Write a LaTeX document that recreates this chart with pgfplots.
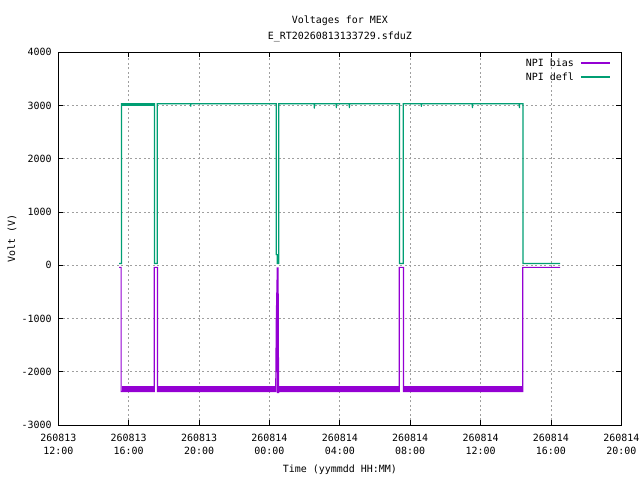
\documentclass[border=0pt]{standalone}
\usepackage{fontspec}
\setmainfont{DejaVu Sans Mono}
\usepackage{pgfplots}
\pgfplotsset{compat=1.18}
\definecolor{npibias}{RGB}{148,0,211}
\definecolor{npidefl}{RGB}{0,158,115}
\begin{document}
\begin{tikzpicture}[font=\fontsize{10}{12}\selectfont]
\useasboundingbox (0,0) rectangle (640bp,480bp);
\begin{axis}[
  at={(58.3bp,55bp)}, anchor=south west,
  scale only axis, width=563bp, height=372.7bp,
  clip mode=individual,
  xmin=12, xmax=44, ymin=-3000, ymax=4000,
  xtick={12,16,20,24,28,32,36,40,44},
  xticklabels={{260813\\12:00},{260813\\16:00},{260813\\20:00},{260814\\00:00},{260814\\04:00},{260814\\08:00},{260814\\12:00},{260814\\16:00},{260814\\20:00}},
  ytick={-3000,-2000,...,4000},
  /pgf/number format/assume math mode=true,
  /pgf/number format/1000 sep={},
  x tick label style={align=center, anchor=north, inner sep=0pt, yshift=-9bp, font=\fontsize{10}{13}\selectfont},
  y tick label style={anchor=east, inner sep=0pt, xshift=-6.5bp},
  major tick length=5bp,
  tick style={black, line width=0.8bp},
  axis line style={black, line width=1bp},
  grid=major,
  major grid style={gray!75, dash pattern=on 2bp off 2.5bp, line width=0.8bp},
  xlabel={Time (yymmdd HH:MM)},
  ylabel={Volt (V)},
  every axis x label/.style={at={(axis description cs:0.5,-0.1207)}, anchor=center},
  every axis y label/.style={at={(axis description cs:-0.0822,0.5)}, anchor=center, rotate=90},
]
% NPI bias outline
\addplot[draw=npibias, line width=1.2bp] coordinates {
(15.451,-40) (15.570,-40) (15.570,-2370) (17.450,-2370) (17.450,-40) (17.640,-40) (17.640,-2370)
(24.359,-2370) (24.393,-1000) (24.450,-40) (24.461,-2400) (24.490,-40) (24.518,-2400) (24.530,-2370)
(31.380,-2370) (31.380,-40) (31.620,-40) (31.620,-2370)
(38.395,-2370) (38.395,-40) (40.522,-40)
};
% NPI defl
\addplot[draw=npidefl, line width=1.2bp] coordinates {
(15.451,35) (15.595,35) (15.595,3035) (17.465,3035) (17.465,35) (17.625,35) (17.625,3035)
(19.520,3035) (19.527,2980) (19.535,3035)
(24.393,3035) (24.393,200) (24.450,200) (24.450,35) (24.530,35) (24.530,3035)
(26.550,3035) (26.554,2940) (26.560,3035)
(27.800,3035) (27.805,2950) (27.810,3035)
(28.540,3035) (28.544,2950) (28.550,3035)
(31.392,3035) (31.392,35) (31.606,35) (31.606,3035)
(32.630,3035) (32.637,2975) (32.640,3035)
(35.530,3035) (35.536,2950) (35.540,3035)
(38.200,3035) (38.208,2950) (38.210,3035)
(38.408,3035) (38.408,35) (40.522,35)
};
% noise bands
\addplot[draw=npidefl, line width=2.5bp, forget plot] coordinates {(15.62,3020) (17.44,3020)};
\addplot[draw=npibias, line width=6bp, forget plot] coordinates {(15.60,-2318) (17.44,-2318)};
\addplot[draw=npibias, line width=6bp, forget plot] coordinates {(17.65,-2318) (24.35,-2318)};
\addplot[draw=npibias, line width=6bp, forget plot] coordinates {(24.54,-2318) (31.37,-2318)};
\addplot[draw=npibias, line width=6bp, forget plot] coordinates {(31.63,-2318) (38.385,-2318)};
% title
\node[anchor=base] at (axis description cs:0.5,1) [yshift=28.3bp] {Voltages for MEX};
\node[anchor=base] at (axis description cs:0.5,1) [yshift=13bp] {E\_RT20260813133729.sfduZ};
% legend
\node[anchor=east, inner sep=0pt] at (axis description cs:0.916,0.9713) {NPI bias};
\node[anchor=east, inner sep=0pt] at (axis description cs:0.916,0.9337) {NPI defl};
\draw[npibias, line width=1.4bp] (axis description cs:0.9284,0.9713) -- (axis description cs:0.980,0.9713);
\draw[npidefl, line width=1.4bp] (axis description cs:0.9284,0.9337) -- (axis description cs:0.980,0.9337);
\end{axis}
\end{tikzpicture}
\end{document}
